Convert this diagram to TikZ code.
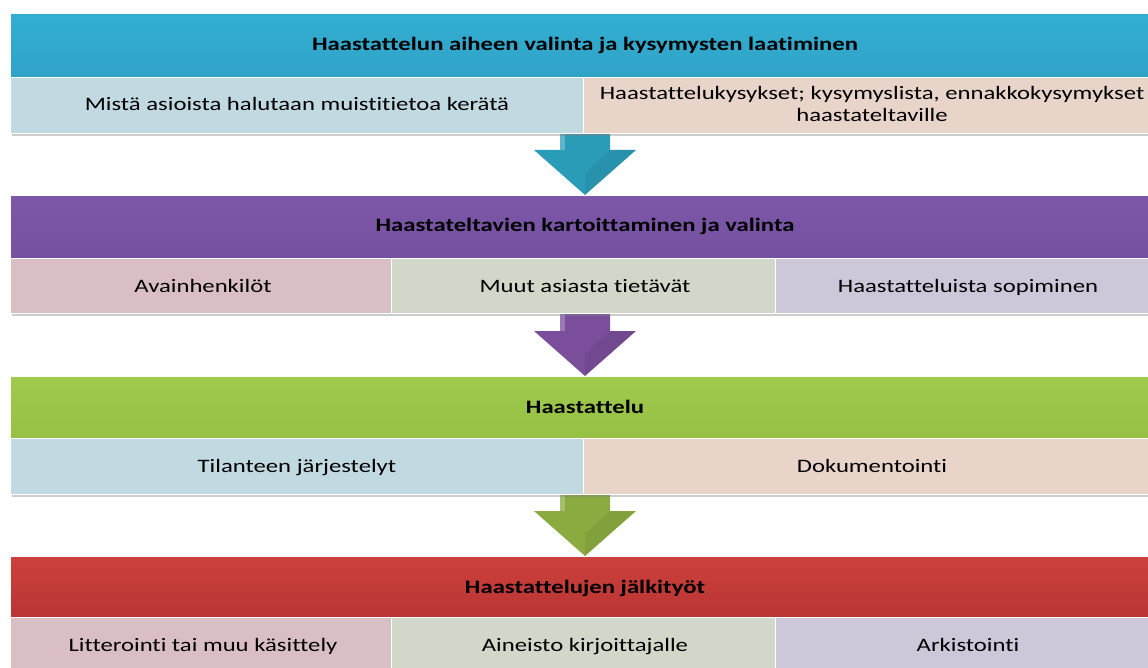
\documentclass[tikz,border=0pt]{standalone}
\usepackage{fontspec}
\setmainfont{Carlito}[FakeStretch=1.3, Ligatures=NoCommon]
\usetikzlibrary{shadows}
\definecolor{cTop}{HTML}{33AED3}
\definecolor{cTopD}{HTML}{2FA3C6}
\definecolor{cPur}{HTML}{7D58A8}
\definecolor{cPurD}{HTML}{7550A0}
\definecolor{cGrn}{HTML}{A0CA4C}
\definecolor{cGrnD}{HTML}{96C044}
\definecolor{cRed}{HTML}{CC403D}
\definecolor{cRedD}{HTML}{BA3532}
\definecolor{cBlu}{HTML}{C1D9E0}
\definecolor{cPch}{HTML}{E8D4C9}
\definecolor{cPnk}{HTML}{D9BFC4}
\definecolor{cSag}{HTML}{D1D8C9}
\definecolor{cLav}{HTML}{CEC6D9}
\definecolor{aTeal}{HTML}{2B9CB8}
\definecolor{aPur}{HTML}{7A4E9B}
\definecolor{aGrn}{HTML}{8BAA3F}
\tikzset{
  bar/.style={draw=white, line width=0.8pt, inner sep=0pt, anchor=north west, drop shadow={shadow xshift=1.5pt, shadow yshift=-2pt, opacity=0.35}},
  cell/.style={draw=white, line width=0.8pt, inner sep=0pt, anchor=north west, drop shadow={shadow xshift=1.5pt, shadow yshift=-2.5pt, opacity=0.4}},
  ttl/.style={font=\bfseries\fontsize{19}{22}\selectfont, anchor=base, inner sep=0pt},
  txt/.style={font=\fontsize{19}{22}\selectfont, align=center, anchor=base, inner sep=0pt},
  txt2/.style={font=\fontsize{19}{22}\selectfont, align=center, inner sep=0pt}
}
\newcommand{\flowarrow}[3]{%
  % #1 top y of shaft, #2 tip y, #3 colour
  \fill[#3] (560,#1) -- (610,#1) -- (610,#2-45) -- (636,#2-45) -- (585,#2) -- (534,#2-45) -- (560,#2-45) -- cycle;
  \fill[white, opacity=0.25] (560,#1) -- (565,#1) -- (565,#2-45) -- (560,#2-45) -- cycle;
  \fill[black, opacity=0.06] (585,#2) -- (636,#2-45) -- (610,#2-45) -- (585,#2-22) -- cycle;
}
\begin{document}
\begin{tikzpicture}[x=1pt,y=-1pt]
\useasboundingbox (0,0) rectangle (1148,668);
\clip (0,0) rectangle (1148,668);
% arrows (behind the blocks)
\flowarrow{120}{195}{aTeal}
\flowarrow{300}{376}{aPur}
\flowarrow{480}{556}{aGrn}
% block 1
\node[bar, top color=cTop, bottom color=cTopD, minimum width=1150pt, minimum height=64pt] (t1) at (10,13) {};
\node[ttl] at (585,51) (t1l) {Haastattelun aiheen valinta ja kysymysten laatiminen};
\node[cell, fill=cBlu, minimum width=573pt, minimum height=56pt] (c11) at (10,77) {};
\node[cell, fill=cPch, minimum width=580pt, minimum height=56pt] (c12) at (583,77) {};
\node[txt] at (297,111) (c11t) {Mistä asioista halutaan muistitietoa kerätä};
\node[txt2] at (872,104) (c12t) {Haastattelukysykset; kysymyslista, ennakkokysymykset\\haastateltaville};
% block 2
\node[bar, top color=cPur, bottom color=cPurD, minimum width=1150pt, minimum height=63pt] (t2) at (10,195) {};
\node[ttl] at (585,232) (t2l) {Haastateltavien kartoittaminen ja valinta};
\node[cell, fill=cPnk, minimum width=381pt, minimum height=55pt] (c21) at (10,258) {};
\node[cell, fill=cSag, minimum width=384pt, minimum height=55pt] (c22) at (391,258) {};
\node[cell, fill=cLav, minimum width=390pt, minimum height=55pt] (c23) at (775,258) {};
\node[txt] at (203,292) (c21t) {Avainhenkilöt};
\node[txt] at (585,292) (c22t) {Muut asiasta tietävät};
\node[txt] at (968,292) (c23t) {Haastatteluista sopiminen};
% block 3
\node[bar, top color=cGrn, bottom color=cGrnD, minimum width=1150pt, minimum height=62pt] (t3) at (10,376) {};
\node[ttl] at (585,413) (t3l) {Haastattelu};
\node[cell, fill=cBlu, minimum width=573pt, minimum height=56pt] (c31) at (10,438) {};
\node[cell, fill=cPch, minimum width=580pt, minimum height=56pt] (c32) at (583,438) {};
\node[txt] at (297,472) (c31t) {Tilanteen järjestelyt};
\node[txt] at (872,472) (c32t) {Dokumentointi};
% block 4
\node[bar, top color=cRed, bottom color=cRedD, minimum width=1150pt, minimum height=61pt] (t4) at (10,556) {};
\node[ttl] at (585,593) (t4l) {Haastattelujen jälkityöt};
\node[cell, fill=cPnk, minimum width=381pt, minimum height=60pt] (c41) at (10,617) {};
\node[cell, fill=cSag, minimum width=384pt, minimum height=60pt] (c42) at (391,617) {};
\node[cell, fill=cLav, minimum width=390pt, minimum height=60pt] (c43) at (775,617) {};
\node[txt] at (203,651) (c41t) {Litterointi tai muu käsittely};
\node[txt] at (585,651) (c42t) {Aineisto kirjoittajalle};
\node[txt] at (968,651) (c43t) {Arkistointi};
\end{tikzpicture}
\end{document}
